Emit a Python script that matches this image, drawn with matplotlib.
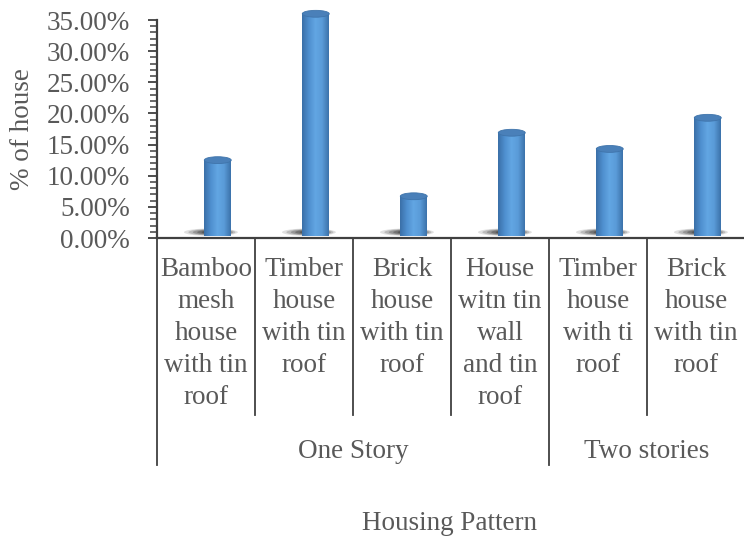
import matplotlib
matplotlib.use('Agg')
import matplotlib.pyplot as plt
import numpy as np
from matplotlib.patches import Ellipse
from matplotlib.colors import LinearSegmentedColormap
from matplotlib.transforms import blended_transform_factory
from matplotlib.ticker import MultipleLocator, FuncFormatter

# data
categories = ['Bamboo\nmesh\nhouse\nwith tin\nroof',
              'Timber\nhouse\nwith tin\nroof',
              'Brick\nhouse\nwith tin\nroof',
              'House\nwitn tin\nwall\nand tin\nroof',
              'Timber\nhouse\nwith ti\nroof',
              'Brick\nhouse\nwith tin\nroof']
share = [0.125, 0.360, 0.067, 0.169, 0.143, 0.193]
groups = ['One Story', 'Two stories']
group_sizes = [4, 2]

TXT = '#595959'
AX = '#404040'
FS = 19.5
plt.rcParams['font.family'] = ['Liberation Serif', 'DejaVu Serif']

W, H = 744, 537
fig = plt.figure(figsize=(W / 100, H / 100), dpi=100)
ax = fig.add_axes([157 / W, 1 - 238 / H, 588 / W, 218 / H])

x = np.arange(len(share))
DEPTH = 0.12   # 3-d offset of the cylinders
FLOOR = 0.009  # cylinders stand on the floor, slightly above axis
BW = 0.275
cyl = LinearSegmentedColormap.from_list(
    'cyl', ['#3a70a8', '#4f8fcf', '#62a6e3', '#5a9bd8', '#3c73ab'])
grad = np.linspace(0, 1, 64).reshape(1, -1)

bars = ax.bar(x + DEPTH, np.array(share) - FLOOR, bottom=FLOOR, width=BW,
              color='none', edgecolor='none', clip_on=False, zorder=3)
for b in bars:
    x0, w = b.get_x(), b.get_width()
    cx = x0 + w / 2
    top = b.get_y() + b.get_height()
    # soft floor shadow
    for k, a in enumerate([0.14, 0.2, 0.26, 0.32, 0.38]):
        sh = Ellipse((cx - 0.07 + k * 0.01, FLOOR + 0.0003), 0.55 - k * 0.07,
                     0.012 - k * 0.0015,
                     facecolor='#2a2a2a', edgecolor='none', alpha=a, zorder=2,
                     clip_on=False)
        ax.add_patch(sh)
    im = ax.imshow(grad, cmap=cyl, aspect='auto', extent=[x0, x0 + w, FLOOR - 0.006, top],
                   zorder=3, clip_on=False)
    body = plt.Rectangle((x0, FLOOR), w, top - FLOOR, transform=ax.transData,
                         facecolor='none', edgecolor='none')
    ax.add_patch(body)
    im.set_clip_path(body)
    base = Ellipse((cx, FLOOR), w, 0.011, facecolor='none', edgecolor='none')
    ax.add_patch(base)
    im2 = ax.imshow(grad, cmap=cyl, aspect='auto', extent=[x0, x0 + w, FLOOR - 0.006, top],
                    zorder=3, clip_on=False)
    im2.set_clip_path(base)
    cap = Ellipse((cx, top), w, 0.011, angle=0, facecolor='#4a80b9',
                  edgecolor='#3f74ab', linewidth=0.6, zorder=4, clip_on=False)
    ax.add_patch(cap)

ax.set_xlim(-0.5, len(share) - 0.5)
ax.set_ylim(0, 0.35)
ax.yaxis.set_major_locator(MultipleLocator(0.05))
ax.yaxis.set_minor_locator(MultipleLocator(0.01))
ax.yaxis.set_major_formatter(FuncFormatter(lambda v, p: f'{v * 100:.2f}%'))
ax.tick_params(axis='y', which='major', length=6.5, width=1.3, color=AX,
               labelsize=FS, labelcolor=TXT, pad=13)
ax.tick_params(axis='y', which='minor', length=5, width=1.1, color=AX)
ax.set_xticks([])
for s in ['top', 'right']:
    ax.spines[s].set_visible(False)
for s in ['left', 'bottom']:
    ax.spines[s].set_color(AX)
    ax.spines[s].set_linewidth(1.6)
ax.set_ylabel('% of house', fontsize=FS, color=TXT)
ax.yaxis.set_label_coords(-0.207, 0.5)

# multi-level category axis below the plot
tr = blended_transform_factory(ax.transData, fig.transFigure)
def fy(py):
    return 1 - py / H

for i, lab in enumerate(categories):
    ax.text(i, fy(257), lab, transform=tr, ha='center', va='top',
            fontsize=FS, color=TXT, linespacing=1.37)
edges = np.arange(len(categories) + 1) - 0.5
group_edges = np.concatenate([[0], np.cumsum(group_sizes)]) - 0.5
for e in edges:
    bottom = 465 if e in group_edges else 415
    ax.plot([e, e], [fy(238), fy(bottom)], transform=tr, color=AX, lw=1.3,
            clip_on=False)
for g, lo, hi in zip(groups, group_edges[:-1], group_edges[1:]):
    ax.text((lo + hi) / 2, fy(452), g, transform=tr, ha='center', va='center',
            fontsize=FS, color=TXT)

fig.text(450 / W, fy(523), 'Housing Pattern', ha='center', va='center',
         fontsize=FS, color=TXT)

fig.savefig('out.png', dpi=100, facecolor='white')
